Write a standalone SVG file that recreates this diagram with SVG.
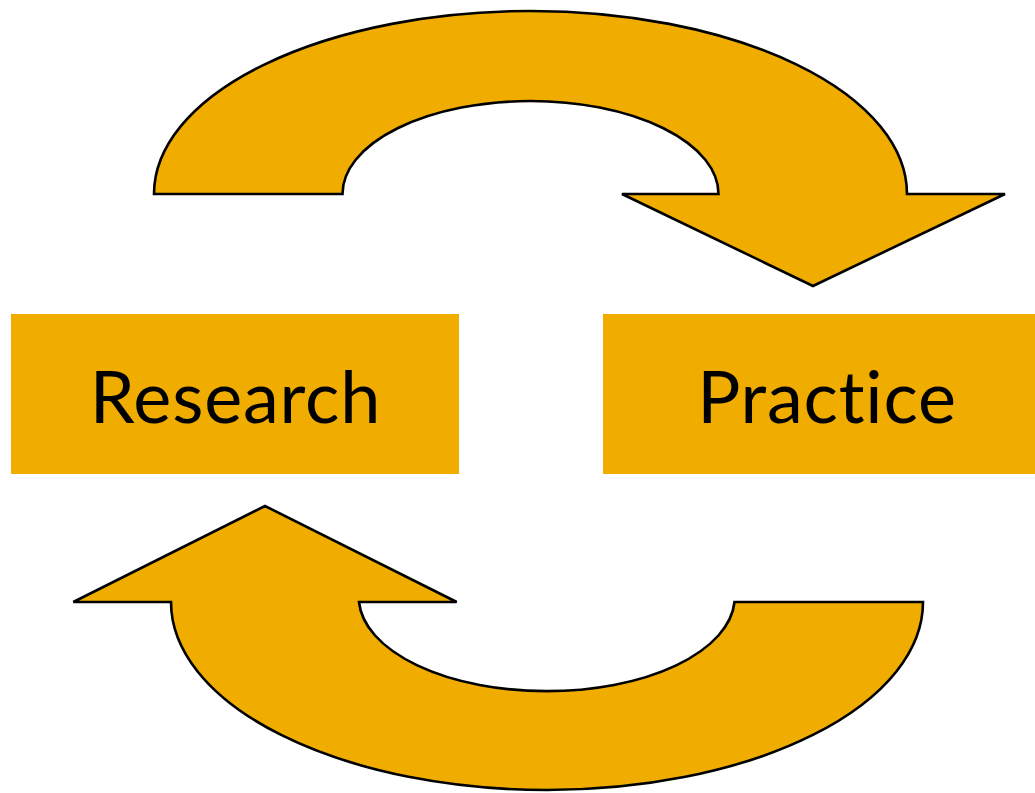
<svg xmlns="http://www.w3.org/2000/svg" width="1035" height="793" viewBox="0 0 1035 793">
  <style>
    .box { fill: #F0AD00; }
    .arrow { fill: #F0AD00; stroke: #000; stroke-width: 2.6; stroke-linejoin: miter; }
    .label { font-family: Lato, "Liberation Sans", sans-serif; font-size: 72px; fill: #000; text-anchor: middle; font-variant-ligatures: none; font-feature-settings: "liga" 0, "clig" 0; letter-spacing: 0.8px; }
  </style>
  <rect width="1035" height="793" fill="#fff"/>
  <g id="connectors">
    <path id="arrow-top" class="arrow" d="M 154 194 A 376.5 183 0 0 1 907 194 L 1005 194 L 813 286 L 622 194 L 718.5 194 A 188 93 0 0 0 342.5 194 Z"/>
    <path id="arrow-bottom" class="arrow" d="M 171 602 A 376 188 0 0 0 923 602 L 734.5 602 A 188 94 0 0 1 359 602 L 456.7 602 L 265 506 L 73.3 602 Z"/>
  </g>
  <g id="research">
    <rect class="box" x="11" y="314" width="448" height="160"/>
    <text class="label" x="235.5" y="423">Research</text>
  </g>
  <g id="practice">
    <rect class="box" x="603" y="314" width="448" height="160"/>
    <text class="label" x="827" y="423">Practice</text>
  </g>
</svg>
